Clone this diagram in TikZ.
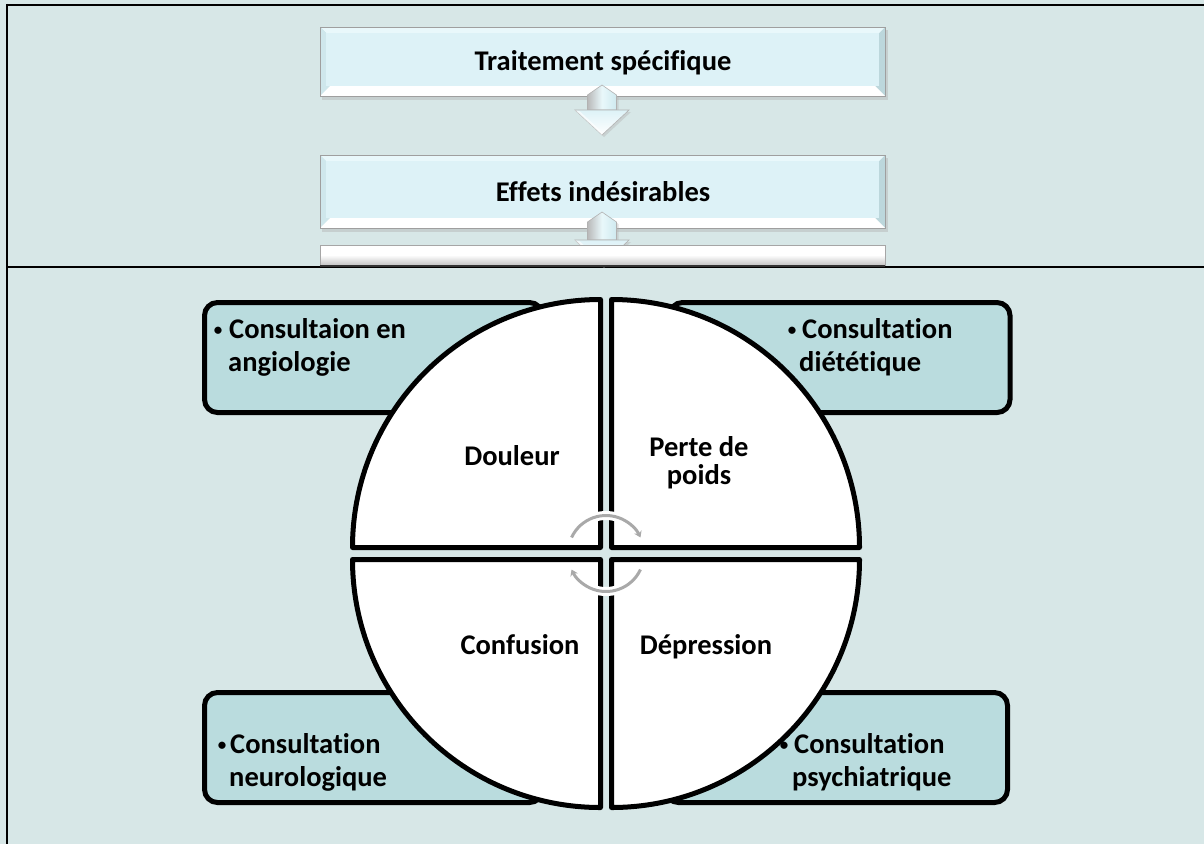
\documentclass[tikz,border=0pt]{standalone}
\usepackage{fontspec}
\setmainfont{Carlito}[Ligatures=NoCommon]
\usetikzlibrary{arrows.meta}

\definecolor{bgc}{HTML}{D7E7E7}
\definecolor{consultc}{HTML}{BADCDE}
\definecolor{facec}{HTML}{DDF2F7}
\definecolor{topbevc}{HTML}{E9F8FB}
\definecolor{leftbevc}{HTML}{CFE7EC}
\definecolor{rightbevc}{HTML}{BCD7DC}
\definecolor{shaftc}{HTML}{CFE9EF}
\definecolor{cyclec}{HTML}{A9A9A9}

% bevelled flow box: x1,y1,x2,y2 (picture units, y downwards)
\newcommand\bevelbox[4]{%
  \fill[gray!60, opacity=.45] (#1+2,#2+3) rectangle (#3+3,#4+4);
  \fill[rightbevc] (#1,#2) rectangle (#3,#4);
  \fill[topbevc] (#1,#2) -- (#3,#2) -- (#3-6,#2+6) -- (#1+6,#2+6) -- cycle;
  \fill[leftbevc] (#1,#2) -- (#1+6,#2+6) -- (#1+10,#4-10) -- (#1,#4) -- cycle;
  \fill[white] (#1,#4) -- (#1+10,#4-10) -- (#3-10,#4-10) -- (#3,#4) -- cycle;
  \fill[facec] (#1+6,#2+6) rectangle (#3-6,#4-10);
  \draw[gray!75, line width=.8pt] (#1,#2) rectangle (#3,#4);
}

% down block arrow: centre x, top y, head y, tip y
\newcommand\blockdown[4]{%
  \fill[gray!60, opacity=.4] (#1+2,#2+2) -- (#1+16.5,#2+12) -- (#1+16.5,#3+2)
     -- (#1+29,#3+2) -- (#1+2,#4+2) -- (#1-25,#3+2) -- (#1-12.5,#3+2)
     -- (#1-12.5,#2+12) -- cycle;
  \shade[left color=gray!55, right color=shaftc, middle color=topbevc, draw=gray!60, line width=.6pt]
     (#1,#2) -- (#1+14.5,#2+10) -- (#1+14.5,#3) -- (#1-14.5,#3) -- (#1-14.5,#2+10) -- cycle;
  \shade[top color=facec, bottom color=white, draw=gray!60, line width=.6pt]
     (#1+14.5,#3) -- (#1+27,#3) -- (#1,#4) -- (#1-27,#3) -- (#1-14.5,#3) -- cycle;
  \fill[white, opacity=.6] (#1,#4-3) -- (#1-22,#3+1.5) -- (#1-27,#3) -- (#1,#4) -- cycle;
}

\tikzset{
  lbl/.style={font=\bfseries\fontsize{28.5}{32}\selectfont, inner sep=0pt, text=black},
  dotlbl/.style={font=\bfseries\fontsize{17}{17}\selectfont, inner sep=0pt, text=black},
  quad/.style={fill=white, draw=black, line width=5pt, line join=round},
  consult/.style={fill=consultc, draw=black, line width=5pt, rounded corners=13pt},
  cyc/.style={draw=cyclec, line width=3pt, -{Stealth[length=6pt,width=8pt]}},
  halo/.style={draw=white, line width=9pt},
}

\begin{document}
\begin{tikzpicture}[x=1pt,y=-1pt]
\useasboundingbox (0,0) rectangle (1204,844);
\fill[bgc] (0,0) rectangle (1204,844);

% frame of the two panels
\draw[black, line width=2.5pt] (7,5) -- (1204,5);
\draw[black, line width=2.5pt] (7,3.75) -- (7,844);
\draw[black, line width=2pt] (7,267) -- (1204,267);

% ---------- upper panel: flow ----------
\bevelbox{320}{27}{885}{96}
\node[lbl, anchor=base] (trait) at (603,70) {Traitement spécifique};
\blockdown{602}{85}{110}{135}

\bevelbox{320}{155}{885}{228}
\node[lbl, anchor=base] (effets) at (603,201) {Effets indésirables};
\blockdown{602}{212}{240}{266}

% third (empty) bar
\shade[top color=white, bottom color=gray!45, middle color=white, draw=gray!70, line width=.6pt]
  (320,245) rectangle (885,265);
\draw[black!80, line width=1.6pt] (320,266) -- (885,266);

% ---------- lower panel: cycle matrix ----------
\path[consult] (204.5,302.5) rectangle (542.5,412.5);
\path[consult] (669.5,302.5) rectangle (1010,412.5);
\path[consult] (204.5,692.5) rectangle (542.5,802.5);
\path[consult] (665.5,692.5) rectangle (1007.5,802.5);

% quadrants of the disc
\path[quad] (600.5,547.5) -- ++(0,-248) arc[start angle=270, end angle=180, radius=248] -- cycle;
\path[quad] (611.5,547.5) -- ++(0,-248) arc[start angle=270, end angle=360, radius=248] -- cycle;
\path[quad] (600.5,559.5) -- ++(0,248) arc[start angle=90, end angle=180, radius=248] -- cycle;
\path[quad] (611.5,559.5) -- ++(0,248) arc[start angle=90, end angle=0, radius=248] -- cycle;

% circular arrows in the centre
\coordinate (hub) at (606,553.5);
\path[halo] ([shift={(-155:38)}]hub) arc[start angle=-155, end angle=-25, radius=38];
\path[halo] ([shift={(25:38)}]hub) arc[start angle=25, end angle=155, radius=38];
\path[cyc] ([shift={(-155:38)}]hub) arc[start angle=-155, end angle=-25, radius=38];
\path[cyc] ([shift={(25:38)}]hub) arc[start angle=25, end angle=155, radius=38];

% quadrant labels
\node[lbl, anchor=base] (douleur) at (512,465) {Douleur};
\node[lbl, anchor=base] (perte1) at (699,456) {Perte de};
\node[lbl, anchor=base] (perte2) at (699,484) {poids};
\node[lbl, anchor=base] (confusion) at (520,654) {Confusion};
\node[lbl, anchor=base] (depression) at (706,654) {Dépression};

% consultation texts
\node[dotlbl, anchor=base] (b1) at (218,335) {•};
\node[lbl, anchor=base west] (c1a) at (229,338) {Consultaion en};
\node[lbl, anchor=base west] (c1b) at (228,371) {angiologie};

\node[dotlbl, anchor=base] (b2) at (792,335) {•};
\node[lbl, anchor=base west] (c2a) at (802,338) {Consultation};
\node[lbl, anchor=base west] (c2b) at (799,371) {diététique};

\node[dotlbl, anchor=base] (b3) at (222,750) {•};
\node[lbl, anchor=base west] (c3a) at (230,753) {Consultation};
\node[lbl, anchor=base west] (c3b) at (229,786) {neurologique};

\node[dotlbl, anchor=base] (b4) at (784,750) {•};
\node[lbl, anchor=base west] (c4a) at (794,753) {Consultation};
\node[lbl, anchor=base west] (c4b) at (792,786) {psychiatrique};
\end{tikzpicture}
\end{document}
